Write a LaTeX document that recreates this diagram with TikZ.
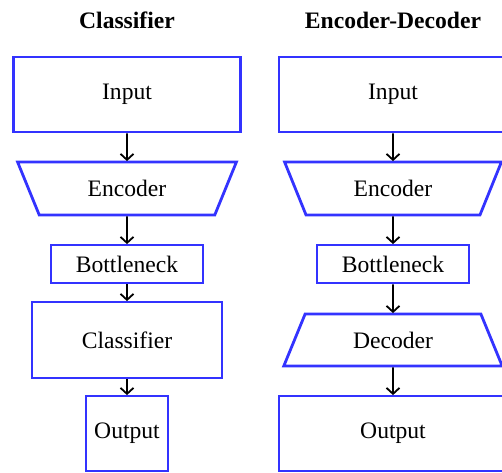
\documentclass[tikz,border=0pt]{standalone}
\usepackage{fontspec}
\setmainfont{Liberation Serif}
\usetikzlibrary{shapes.geometric,arrows.meta}
\definecolor{boxblue}{RGB}{51,51,255}
\begin{document}
\begin{tikzpicture}[x=1pt,y=1pt,
  every node/.style={font=\fontsize{23.6}{28}\selectfont, inner sep=0pt},
  title/.style={font=\fontsize{23.6}{28}\selectfont\bfseries},
  rbox/.style={draw=boxblue, line width=2.8pt, rectangle},
  enc/.style={draw=boxblue, line width=2.8pt, trapezium, trapezium stretches=true,
    trapezium angle=59.7, shape border rotate=180},
  dec/.style={draw=boxblue, line width=2.8pt, trapezium, trapezium stretches=true,
    trapezium angle=59.7},
  conn/.style={line width=1.8pt, -{Straight Barb[length=6pt,width=13pt]}, shorten >=-0.5pt}
]
\useasboundingbox (0,0) rectangle (502,-472);
\clip (0,0) rectangle (502,-472);
% left column
\node[title] (t1) at (127,-20) {Classifier};
\node[rbox, minimum width=227, minimum height=75] (li) at (127,-94.5) {Input};
\node[enc, minimum width=219, minimum height=53] (le) at (127,-188.5) {Encoder};
\node[rbox, minimum width=152, minimum height=38] (lb) at (127,-264) {Bottleneck};
\node[rbox, minimum width=190, minimum height=76] (lc) at (127,-340) {Classifier};
\node[rbox, minimum width=82, minimum height=75] (lo) at (127,-433.5) {Output};
\draw[conn] (li.south) -- (le.north);
\draw[conn] (le.south) -- (lb.north);
\draw[conn] (lb.south) -- (lc.north);
\draw[conn] (lc.south) -- (lo.north);
% right column
\node[title] (t2) at (393,-20) {Encoder-Decoder};
\node[rbox, minimum width=228, minimum height=75] (ri) at (393,-94.5) {Input};
\node[enc, minimum width=217, minimum height=53] (re) at (393,-188.5) {Encoder};
\node[rbox, minimum width=152, minimum height=38] (rb) at (393,-264) {Bottleneck};
\node[dec, minimum width=220, minimum height=52] (rd) at (393,-340) {Decoder};
\node[rbox, minimum width=228, minimum height=75] (ro) at (393,-433.5) {Output};
\draw[conn] (ri.south) -- (re.north);
\draw[conn] (re.south) -- (rb.north);
\draw[conn] (rb.south) -- (rd.north);
\draw[conn] (rd.south) -- (ro.north);
\end{tikzpicture}
\end{document}
